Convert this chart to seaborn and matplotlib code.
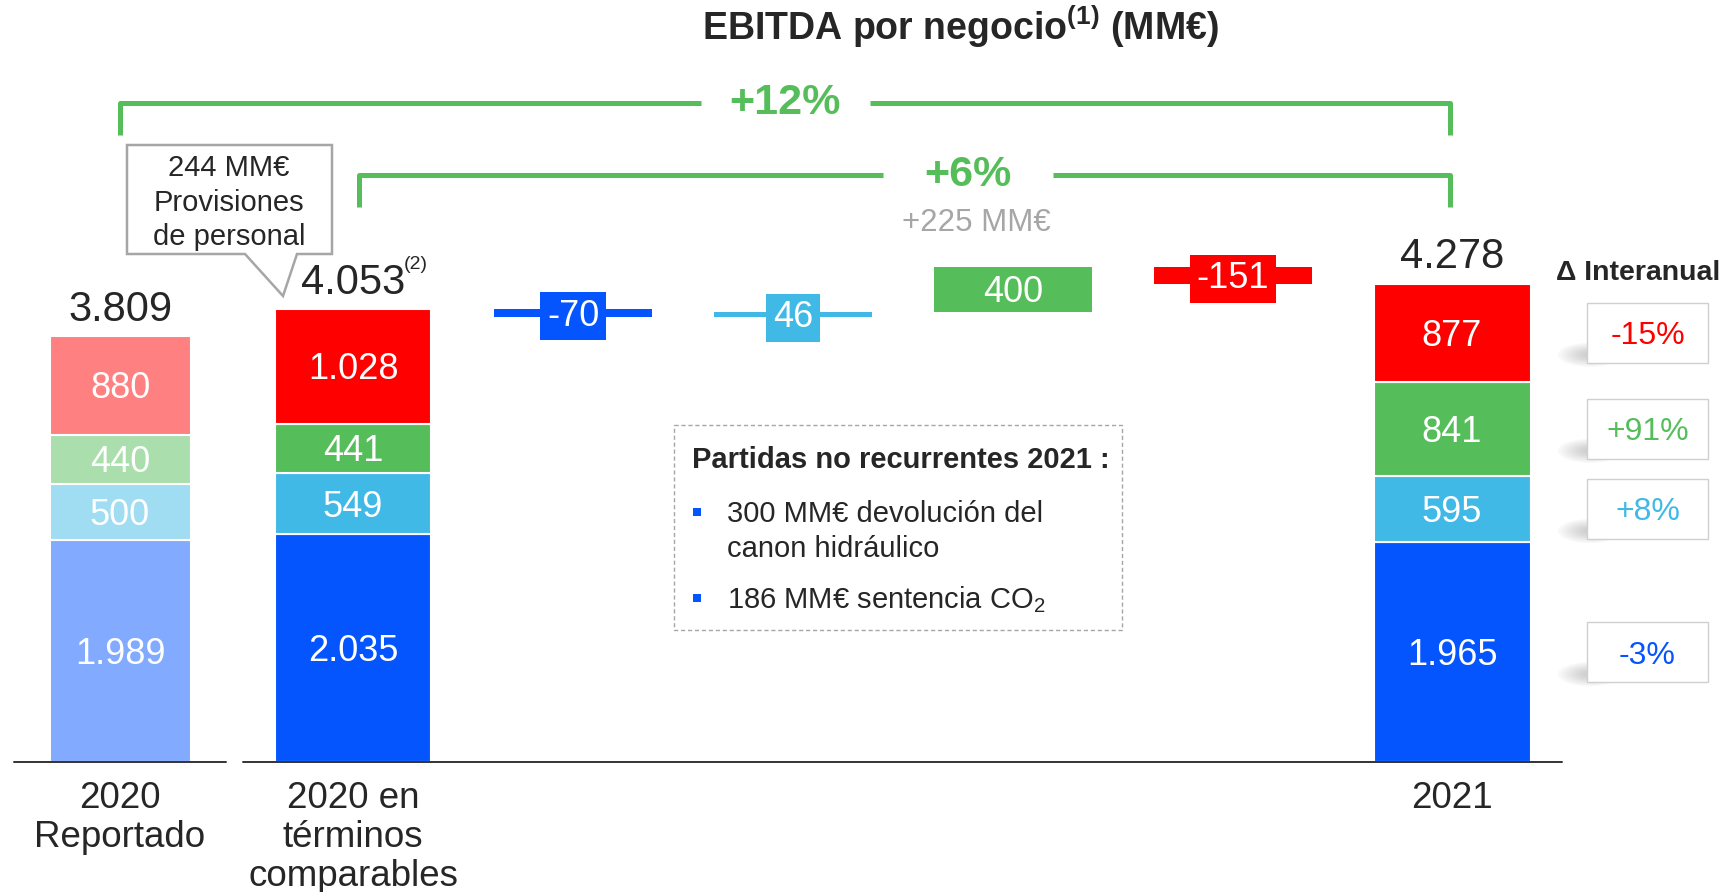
import matplotlib
matplotlib.use('Agg')
import matplotlib.pyplot as plt
import seaborn as sns
from matplotlib.patches import Rectangle, Polygon, Ellipse

# --- datos (MM€) ---
barras = [['2020', 'Reportado'], ['2020 en', 'términos', 'comparables'], ['2021']]
azul = [1989, 2035, 1965]
celeste = [500, 549, 595]
verde = [440, 441, 841]
rojo = [880, 1028, 877]
puentes = [-70, 46, 400, -151]          # azul, celeste, verde, rojo
variaciones = ['-3%', '+8%', '+91%', '-15%']  # azul, celeste, verde, rojo

# --- estilo / posiciones ---
col = {'azul': '#0555FF', 'celeste': '#41B9E6', 'verde': '#55BE5A', 'rojo': '#FF0000'}
col_claro = {'azul': '#82AAFF', 'celeste': '#A0DCF2', 'verde': '#AADEAC', 'rojo': '#FF8080'}
verde_txt = '#55BE5A'
pos_barras = [120, 353, 1452]
ancho_barras = [141, 156, 157]
pos_puentes = [573, 793, 1013, 1233]
ancho_puente = 158

W, H = 1726, 892
BASE, ESC = 762, 0.1118   # fila de la base y px por MM€

sns.set_style('white')
plt.rcParams['font.family'] = ['Liberation Sans', 'DejaVu Sans']
plt.rcParams['mathtext.fontset'] = 'custom'
plt.rcParams['mathtext.rm'] = 'Liberation Sans'
plt.rcParams['mathtext.bf'] = 'Liberation Sans:bold'
plt.rcParams['mathtext.it'] = 'Liberation Sans:italic'

fig = plt.figure(figsize=(W / 100, H / 100), dpi=100)
ax = fig.add_axes([0, 0, 1, 1])


def fmt(v):
    return f'{v:,}'.replace(',', '.')


def etiqueta(x, y, s, size, **kw):
    # texto centrado verticalmente sobre la altura de las cifras
    ax.annotate(s, (x, y), xytext=(0, -0.358 * size), textcoords='offset points',
                ha='center', va='baseline', fontsize=size, **kw)


capas = [('azul', azul), ('celeste', celeste), ('verde', verde), ('rojo', rojo)]
centros_2021 = []
for i, (x, w) in enumerate(zip(pos_barras, ancho_barras)):
    base = 0
    for nombre, vals in capas:
        v = vals[i]
        c = col_claro[nombre] if i == 0 else col[nombre]
        sns.barplot(x=[x], y=[v], bottom=base, width=w, native_scale=True, orient='x',
                    color=c, saturation=1, errorbar=None, edgecolor='white',
                    linewidth=1.5, ax=ax)
        etiqueta(x, base + v / 2, fmt(v), 26, color='white')
        if i == 2:
            centros_2021.append(base + v / 2)
        base += v
    ax.annotate(fmt(base), (x, base), xytext=(0, 11), textcoords='offset points',
                ha='center', va='baseline', fontsize=30)

# puente (cascada)
nivel = sum(c[1][1] for c in capas)
for x, d, (nombre, _) in zip(pos_puentes, puentes, capas):
    y0 = min(nivel, nivel + d)
    sns.barplot(x=[x], y=[abs(d)], bottom=y0, width=ancho_puente, native_scale=True,
                orient='x', color=col[nombre], saturation=1, errorbar=None,
                linewidth=0, ax=ax)
    caja = None
    if abs(d) * ESC < 40:   # barra fina: la etiqueta lleva su propia caja
        caja = dict(boxstyle='square,pad=0.18', fc=col[nombre], ec='none')
    etiqueta(x, y0 + abs(d) / 2, str(d), 26, color='white', bbox=caja)
    nivel += d

ax.set_xlim(0, W)
ax.set_ylim(-(H - BASE) / ESC, BASE / ESC)
ax.axis('off')

# capa de anotaciones en píxeles
ov = fig.add_axes([0, 0, 1, 1])
ov.set_xlim(0, W)
ov.set_ylim(H, 0)
ov.axis('off')


def texto(x, yc, s, size, **kw):
    ov.text(x, yc + 0.358 * size * 100 / 72, s, fontsize=size, va='baseline', **kw)


def vpx(v):
    return ov.transData.inverted().transform(ax.transData.transform((0, v)))[1]


# título
texto(960, 27, r'EBITDA por negocio$^{\mathbf{(1)}}$ (MM€)', 27, fontweight='bold', ha='center')

# línea base
ov.plot([14, 226], [BASE, BASE], color='#333333', lw=1.4)
ov.plot([243, 1562], [BASE, BASE], color='#333333', lw=1.4)

# etiquetas de categoría
for x, lineas in zip(pos_barras, barras):
    for k, s in enumerate(lineas):
        texto(x, 795 + 39 * k, s, 26.5, ha='center')

texto(416, 262, '(2)', 14, ha='center')

# corchetes de variación
kw_l = dict(color=verde_txt, lw=3.6, solid_joinstyle='round', solid_capstyle='butt')
ov.plot([120, 120, 701], [135, 103, 103], **kw_l)
ov.plot([870, 1450, 1450], [103, 103, 135], **kw_l)
texto(785, 99, '+12%', 31, fontweight='bold', color=verde_txt, ha='center')
ov.plot([359, 359, 883], [207, 175, 175], **kw_l)
ov.plot([1053, 1450, 1450], [175, 175, 207], **kw_l)
texto(968, 170.5, '+6%', 31, fontweight='bold', color=verde_txt, ha='center')
texto(976, 219.5, '+225 MM€', 22.5, color='#A6A6A6', ha='center')

# bocadillo
ov.add_patch(Polygon([(127, 145), (332, 145), (332, 254), (297, 254), (283, 296),
                      (245, 254), (127, 254)], closed=True, fc='white', ec='#A6A6A6',
                     lw=1.8, joinstyle='miter'))
for k, s in enumerate(['244 MM€', 'Provisiones', 'de personal']):
    texto(229, 166 + 34.5 * k, s, 21, ha='center')

# cuadro de partidas no recurrentes
ov.add_patch(Rectangle((674, 425), 448, 205, fc='none', ec='#A6A6A6', lw=1,
                       ls=(0, (3, 2))))
texto(692, 458, 'Partidas no recurrentes 2021 :', 21, fontweight='bold')
for yc in [512, 598]:
    ov.add_patch(Rectangle((693, yc - 4), 8, 8, fc=col['azul'], ec='none'))
texto(727, 512, '300 MM€ devolución del', 21)
texto(727, 547, 'canon hidráulico', 21)
texto(727, 598, '186 MM€ sentencia CO$_2$', 21)

# variación interanual
texto(1638, 270, 'Δ Interanual', 20.5, fontweight='bold', ha='center')
for (nombre, _), yv, s in zip(capas, centros_2021, variaciones):
    yc = vpx(yv)
    for j in range(8):
        ov.add_patch(Ellipse((1590, yc + 22), 64 - 7 * j, 24 - 2.5 * j, fc='#707070',
                             ec='none', alpha=0.045, zorder=1))
    ov.add_patch(Rectangle((1587, yc - 30), 121, 60, fc='white', ec='#D0D0D0', lw=1,
                           zorder=2))
    texto(1647.5, yc, s, 23, color=col[nombre], ha='center', zorder=3)

fig.savefig('out.png', dpi=100)
